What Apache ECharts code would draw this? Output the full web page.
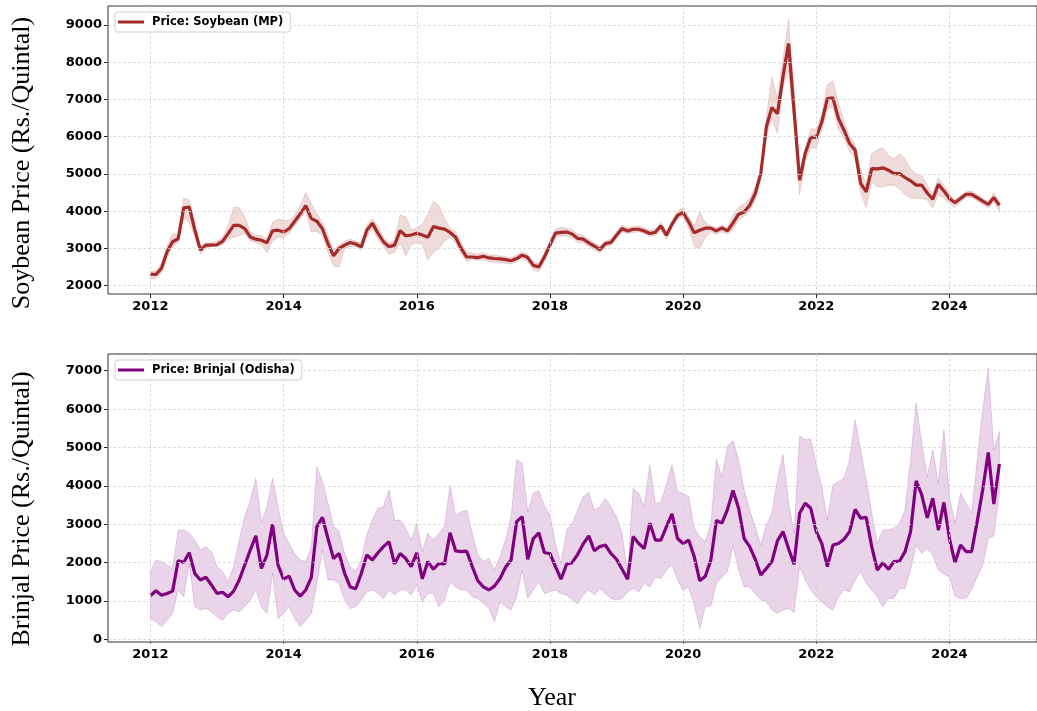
<!DOCTYPE html>
<html>
<head>
<meta charset="utf-8">
<script src="https://cdn.jsdelivr.net/npm/echarts@6/dist/echarts.min.js"></script>
<style>
  html, body { margin: 0; padding: 0; background: #fff; }
  #chart { width: 1037px; height: 711px; }
</style>
</head>
<body>
<div id="chart"></div>
<script>
// Monthly series, January 2012 to October 2024
const START_YEAR = 2012;
const N_MONTHS = 154;

const soyPrice = [
  2310,2300,2470,2910,3180,3260,4090,4110,3500,2960,3090,3090,
  3100,3190,3400,3620,3620,3530,3310,3250,3220,3150,3470,3490,
  3440,3530,3730,3930,4150,3800,3730,3530,3130,2800,3000,3090,
  3160,3120,3040,3490,3680,3410,3180,3045,3090,3480,3340,3360,
  3410,3360,3300,3590,3545,3520,3430,3300,3000,2770,2770,2755,
  2790,2745,2730,2720,2700,2670,2730,2820,2755,2545,2500,2770,
  3090,3410,3430,3440,3390,3270,3250,3150,3060,2970,3130,3160,
  3355,3535,3470,3515,3515,3470,3400,3435,3605,3355,3650,3890,
  3965,3715,3420,3490,3545,3545,3470,3550,3470,3685,3920,3980,
  4160,4475,5010,6265,6785,6620,7610,8500,6700,4830,5550,5980,
  5980,6400,7025,7045,6490,6175,5820,5640,4745,4520,5145,5135,
  5165,5100,5010,5010,4905,4815,4700,4700,4490,4320,4725,4545,
  4340,4225,4340,4455,4455,4365,4270,4180,4365,4160
];
const soyUpper = [
  2380,2380,2600,3050,3400,3350,4350,4300,3700,3050,3150,3150,
  3200,3280,3600,4100,4100,3850,3450,3350,3350,3250,3700,3800,
  3750,3750,3900,4150,4500,4200,3950,3700,3350,2950,3100,3200,
  3250,3200,3150,3650,3800,3600,3300,3150,3200,3900,3850,3500,
  3550,3650,3900,4270,4150,3800,3550,3450,3150,2900,2880,2850,
  2880,2830,2820,2800,2780,2760,2820,2900,2850,2650,2600,2880,
  3200,3530,3560,3550,3500,3380,3350,3250,3150,3060,3200,3250,
  3450,3620,3550,3580,3600,3560,3480,3520,3700,3450,3750,4000,
  4100,3850,3600,3980,3700,3600,3550,3620,3560,3900,4100,4200,
  4350,4650,5100,6500,7600,7000,8100,9150,7200,5100,5700,6200,
  6200,6600,7400,7500,6900,6400,6000,5800,5100,4700,5550,5650,
  5700,5500,5400,5550,5400,5150,5000,4950,4700,4450,4900,4700,
  4450,4300,4420,4520,4540,4450,4340,4250,4500,4230
];
const soyLower = [
  2180,2200,2350,2750,3050,3150,3800,3700,3300,2850,3000,3050,
  3050,3100,3250,3300,3350,3400,3200,3150,3100,2880,3200,3300,
  3300,3400,3600,3800,4000,3450,3450,3350,2900,2530,2500,3000,
  3050,3050,2950,3300,3550,3250,3050,2850,2900,3150,2800,3100,
  3150,3100,2700,2900,3000,3200,3300,3150,2850,2650,2700,2680,
  2700,2650,2630,2620,2600,2580,2650,2730,2650,2420,2380,2650,
  2980,3320,3330,3330,3280,3170,3150,3050,2970,2880,3050,3080,
  3270,3450,3400,3430,3450,3400,3320,3350,3480,3250,3560,3800,
  3850,3550,3050,3000,3300,3450,3380,3450,3380,3500,3750,3850,
  4000,4300,4900,6000,6500,6100,7300,7800,6300,4450,5350,5700,
  5700,6200,6750,6800,6200,5950,5600,5400,4500,4100,4800,4650,
  4650,4700,4700,4600,4450,4350,4350,4350,4300,4100,4450,4350,
  4200,4100,4250,4380,4370,4270,4180,4080,4250,4000
];

const brinjalPrice = [
  1140,1270,1150,1200,1260,2050,2010,2260,1720,1550,1620,1420,
  1200,1230,1110,1260,1550,1940,2330,2700,1850,2200,3000,1940,
  1570,1650,1290,1130,1290,1620,2940,3180,2630,2110,2240,1720,
  1370,1320,1720,2200,2070,2260,2420,2550,1970,2240,2110,1900,
  2260,1580,2030,1830,1980,1970,2780,2310,2290,2300,1900,1530,
  1370,1290,1390,1590,1880,2070,3070,3200,2090,2630,2780,2260,
  2240,1900,1570,1960,2000,2220,2490,2700,2310,2420,2460,2240,
  2090,1830,1570,2680,2500,2370,3030,2590,2590,2940,3270,2630,
  2500,2590,2160,1530,1650,2070,3100,3030,3390,3880,3420,2630,
  2420,2090,1680,1850,2030,2570,2810,2370,1960,3290,3550,3420,
  2810,2500,1900,2460,2500,2610,2810,3390,3160,3180,2420,1810,
  2000,1830,2030,2040,2290,2810,4130,3770,3170,3680,2850,3570,
  2630,2000,2460,2290,2290,3070,3900,4870,3530,4570
];
const brinjalUpper = [
  1770,2070,2030,1940,1850,2850,2850,2770,2590,2330,2420,2290,
  1900,1770,1500,1900,2590,3200,3630,4200,3070,3460,4200,3460,
  2770,2500,2240,2070,2030,2420,4500,4110,3550,2940,2810,2240,
  1900,1770,2070,2720,3110,3420,3460,3900,3110,3110,2900,2590,
  3030,2290,2770,2590,2770,2940,4000,3240,3330,3370,2770,2200,
  2030,2110,1810,2160,2590,3200,4680,4590,3330,3810,3880,3480,
  3240,2500,1980,2850,3030,3370,3720,3830,3370,3460,3680,3460,
  3200,2770,1720,3940,3810,3460,4550,3530,3590,4030,4550,3850,
  3810,3720,2900,2680,2550,3000,4680,4240,5030,5180,4680,3900,
  3370,2940,2460,2980,3290,4160,4810,3590,2770,5300,5200,5220,
  4550,3980,3110,4030,4110,4200,4680,5720,4940,4160,3290,2500,
  2850,2850,2900,3030,3370,4680,6160,5110,4240,4940,4070,5460,
  3720,3030,3810,3550,3290,4680,5980,7070,4940,5420
];
const brinjalLower = [
  550,460,330,500,680,1290,1110,1970,850,770,810,720,
  590,500,680,770,720,850,1030,1290,850,680,1720,550,
  680,850,550,330,500,680,1460,2330,1550,1550,1460,1030,
  810,850,1030,1240,1290,1200,1070,1290,1160,1290,1290,1160,
  1420,980,1200,1200,850,1030,1500,1370,1290,1290,1110,1070,
  940,810,460,980,850,770,1110,1810,1070,1290,1500,1200,
  1240,1290,1200,1160,1030,940,1160,1290,1160,1330,1200,1070,
  1030,1070,1240,1330,1240,1460,1370,1630,1590,1810,1940,1550,
  1290,1370,900,290,850,870,1460,1630,1770,2460,1810,1370,
  1370,1200,1030,980,770,680,770,810,700,1900,1550,1290,
  1110,980,850,770,1110,1290,1240,1550,1770,1460,1290,1110,
  850,1070,1070,1330,1330,1810,2460,2240,2370,2200,1810,1700,
  1630,1130,1070,1070,1300,1630,1940,2630,2700,3810
];

const yearTicks = [2012, 2014, 2016, 2018, 2020, 2022, 2024];
const soyTicks = [2000, 3000, 4000, 5000, 6000, 7000, 8000, 9000];
const brinjalTicks = [0, 1000, 2000, 3000, 4000, 5000, 6000, 7000];

// decimal year for each month (matplotlib-style date positions)
const monthPos = Array.from({ length: N_MONTHS }, (_, i) => START_YEAR + i / 12);
const pairs = (vals) => vals.map((v, i) => [monthPos[i], v]);

const TICK_FONT = { fontFamily: 'DejaVu Sans', fontWeight: 'bold', fontSize: 13, color: '#000' };
const SERIF = 'Liberation Serif';
const GRID_LINE = { color: '#d4d4d4', type: [3, 2], width: 0.8 };
const X_MIN = 2011.363, X_MAX = 2025.315;

function xAxisFor(gridIndex) {
  return {
    type: 'value', gridIndex, min: X_MIN, max: X_MAX,
    axisLine: { show: false },
    axisTick: { show: true, customValues: yearTicks, length: 4, lineStyle: { color: '#222', width: 1 } },
    axisLabel: { customValues: yearTicks, margin: 6, ...TICK_FONT, formatter: v => String(Math.round(v)) },
    splitLine: { show: false }
  };
}
function yAxisFor(gridIndex, min, max, ticks) {
  return {
    type: 'value', gridIndex, min, max,
    axisLine: { show: false },
    axisTick: { show: true, customValues: ticks, length: 4, lineStyle: { color: '#222', width: 1 } },
    axisLabel: { customValues: ticks, margin: 6, ...TICK_FONT, formatter: v => String(Math.round(v)) },
    splitLine: { show: false }
  };
}
// dashed grid lines at the labelled ticks
function gridLines(idx, yTicks) {
  return {
    type: 'line', xAxisIndex: idx, yAxisIndex: idx, data: [], silent: true, z: 0,
    markLine: {
      silent: true, animation: false, symbol: ['none', 'none'], label: { show: false },
      lineStyle: GRID_LINE, emphasis: { disabled: true },
      data: [...yearTicks.map(v => ({ xAxis: v })), ...yTicks.map(v => ({ yAxis: v }))]
    }
  };
}
// shaded min/max range as a single polygon
function bandPolygon(idx, lo, hi, rgb) {
  return {
    type: 'custom', xAxisIndex: idx, yAxisIndex: idx, silent: true, z: 1,
    data: [[monthPos[0], lo[0]]],
    encode: { x: 0, y: 1 },
    renderItem: (params, api) => {
      const pts = [];
      for (let i = 0; i < hi.length; i++) pts.push(api.coord([monthPos[i], hi[i]]));
      for (let i = lo.length - 1; i >= 0; i--) pts.push(api.coord([monthPos[i], lo[i]]));
      return {
        type: 'polygon', shape: { points: pts },
        style: { fill: `rgba(${rgb},0.17)`, stroke: `rgba(${rgb},0.17)`, lineWidth: 1 }
      };
    }
  };
}
const legendBox = (top, name) => ({
  left: 115, top, orient: 'vertical', data: [name], z: 20,
  icon: 'rect', itemWidth: 26, itemHeight: 3,
  padding: [4, 7, 4, 3],
  backgroundColor: '#ffffff', borderColor: '#d0d0d0', borderWidth: 1, borderRadius: 3,
  textStyle: { fontFamily: 'DejaVu Sans', fontWeight: 'bold', fontSize: 11.5, color: '#000', padding: [0, 0, 0, 3] }
});
const axisTitle = (text, x, y, rotation) => ({
  type: 'text', x, y, rotation,
  style: { text, font: `26px "${SERIF}"`, fill: '#000', align: 'center', verticalAlign: 'middle' }
});

const chart = echarts.init(document.getElementById('chart'), null, { renderer: 'canvas' });
chart.setOption({
  animation: false,
  backgroundColor: '#fff',
  grid: [
    { left: 108, top: 6, width: 931, height: 288, show: true, borderColor: '#333', borderWidth: 1, backgroundColor: 'transparent' },
    { left: 108, top: 354, width: 931, height: 288, show: true, borderColor: '#333', borderWidth: 1, backgroundColor: 'transparent' }
  ],
  xAxis: [xAxisFor(0), xAxisFor(1)],
  yAxis: [yAxisFor(0, 1777, 9510, soyTicks), yAxisFor(1, -65, 7436, brinjalTicks)],
  legend: [legendBox(12, 'Price: Soybean (MP)'), legendBox(360, 'Price: Brinjal (Odisha)')],
  graphic: [
    axisTitle('Soybean Price (Rs./Quintal)', 22, 163, Math.PI / 2),
    axisTitle('Brinjal Price (Rs./Quintal)', 22, 509, Math.PI / 2),
    axisTitle('Year', 552, 698, 0)
  ],
  series: [
    gridLines(0, soyTicks),
    gridLines(1, brinjalTicks),
    bandPolygon(0, soyLower, soyUpper, '165,42,42'),
    { name: 'Price: Soybean (MP)', type: 'line', xAxisIndex: 0, yAxisIndex: 0, data: pairs(soyPrice),
      symbol: 'none', color: '#a52a2a', lineStyle: { color: '#a52a2a', width: 3.2 }, z: 3 },
    bandPolygon(1, brinjalLower, brinjalUpper, '128,0,128'),
    { name: 'Price: Brinjal (Odisha)', type: 'line', xAxisIndex: 1, yAxisIndex: 1, data: pairs(brinjalPrice),
      symbol: 'none', color: '#800080', lineStyle: { color: '#800080', width: 3.2 }, z: 3 }
  ]
});
</script>
</body>
</html>
